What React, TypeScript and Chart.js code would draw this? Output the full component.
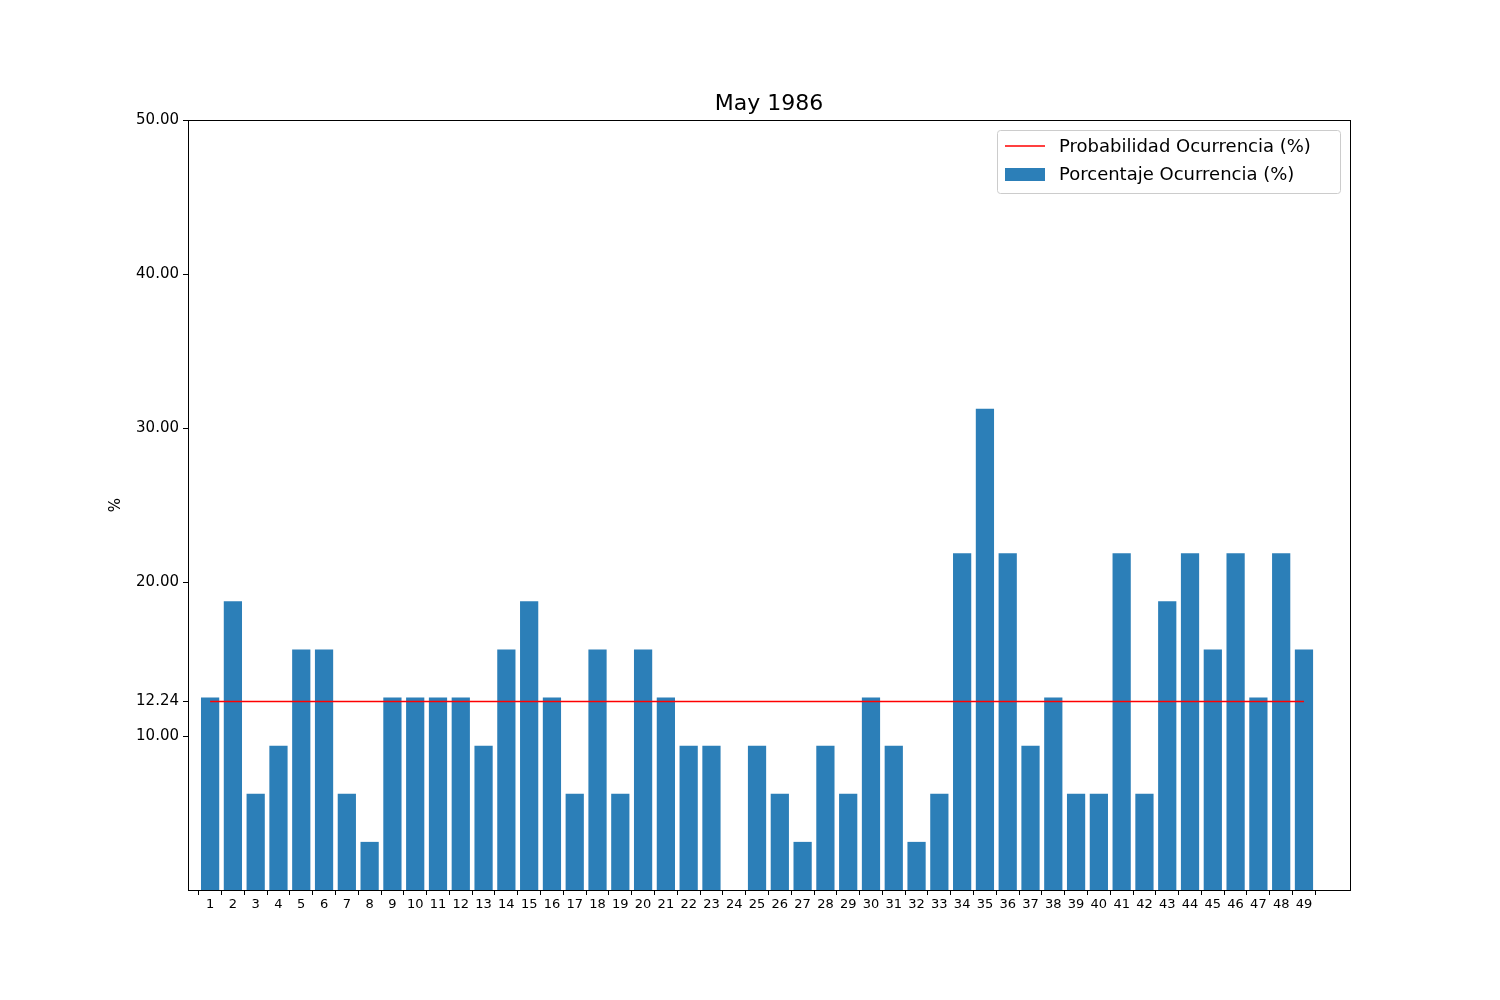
import React, { useRef, useEffect } from 'react';
import Chart from 'chart.js/auto';

const days = Array.from({ length: 49 }, (_, i) => i + 1);
const porcentaje = [
  12.5, 18.75, 6.25, 9.375, 15.625, 15.625, 6.25, 3.125, 12.5, 12.5,
  12.5, 12.5, 9.375, 15.625, 18.75, 12.5, 6.25, 15.625, 6.25, 15.625,
  12.5, 9.375, 9.375, 0, 9.375, 6.25, 3.125, 9.375, 6.25, 12.5,
  9.375, 3.125, 6.25, 21.875, 31.25, 21.875, 9.375, 12.5, 6.25, 6.25,
  21.875, 6.25, 18.75, 21.875, 15.625, 21.875, 12.5, 21.875, 15.625,
];
const probabilidad = 12.24;
const yTicks = [10, 12.24, 20, 30, 40, 50];

const FONT = 'DejaVu Sans';

const decorPlugin = {
  id: 'decor',
  afterDraw(chart: any) {
    const { ctx, chartArea: a } = chart;
    ctx.save();
    ctx.strokeStyle = '#000';
    ctx.lineWidth = 1;
    ctx.strokeRect(a.left + 0.5, a.top + 0.5, a.right - a.left, a.bottom - a.top);
    ctx.fillStyle = '#000';
    ctx.textAlign = 'center';
    ctx.textBaseline = 'alphabetic';
    ctx.font = `22px ${FONT}`;
    ctx.fillText('May 1986', (a.left + a.right) / 2, a.top - 10);
    ctx.save();
    ctx.translate(120, (a.top + a.bottom) / 2);
    ctx.rotate(-Math.PI / 2);
    ctx.font = `15px ${FONT}`;
    ctx.fillText('%', 0, 0);
    ctx.restore();
    // legend
    const lx = 997, ly = 130, lw = 343, lh = 63;
    ctx.fillStyle = 'rgba(255,255,255,0.8)';
    ctx.strokeStyle = '#ccc';
    ctx.beginPath();
    ctx.roundRect(lx + 0.5, ly + 0.5, lw, lh, 3);
    ctx.fill();
    ctx.stroke();
    ctx.strokeStyle = 'red';
    ctx.lineWidth = 1.5;
    ctx.beginPath();
    ctx.moveTo(1005, 146);
    ctx.lineTo(1045, 146);
    ctx.stroke();
    ctx.fillStyle = '#2c7fb8';
    ctx.fillRect(1005, 168, 40, 13);
    ctx.fillStyle = '#000';
    ctx.textAlign = 'left';
    ctx.textBaseline = 'middle';
    ctx.font = `18px ${FONT}`;
    ctx.fillText('Probabilidad Ocurrencia (%)', 1059, 147);
    ctx.fillText('Porcentaje Ocurrencia (%)', 1059, 175);
    ctx.restore();
  },
};

export default function App() {
  const ref = useRef<HTMLCanvasElement | null>(null);

  useEffect(() => {
    if (!ref.current) return;
    const chart = new Chart(ref.current, {
      type: 'bar',
      data: {
        datasets: [
          {
            type: 'line',
            label: 'Probabilidad Ocurrencia (%)',
            data: [
              { x: days[0], y: probabilidad },
              { x: days[days.length - 1], y: probabilidad },
            ],
            borderColor: 'red',
            borderWidth: 1.5,
            pointRadius: 0,
            order: 0,
          },
          {
            type: 'bar',
            label: 'Porcentaje Ocurrencia (%)',
            data: days.map((d, i) => ({ x: d, y: porcentaje[i] })),
            backgroundColor: '#2c7fb8',
            barPercentage: 0.8,
            categoryPercentage: 1,
            order: 1,
          },
        ],
      } as any,
      options: {
        animation: false,
        responsive: false,
        maintainAspectRatio: false,
        layout: { padding: { top: 120, right: 150, bottom: 80, left: 0 } },
        plugins: { legend: { display: false }, title: { display: false }, tooltip: { enabled: false } },
        scales: {
          x: {
            type: 'linear',
            min: 0.03,
            max: 51.02,
            offset: false,
            grid: { drawOnChartArea: false, drawTicks: true, tickLength: 5, color: '#000' },
            border: { color: '#000' },
            afterBuildTicks: (s: any) => { s.ticks = days.map((v) => ({ value: v })); },
            afterFit: (s: any) => { s.height = 30; },
            ticks: { autoSkip: false, maxRotation: 0, color: '#000', font: { family: FONT, size: 13 }, padding: 2, callback: (v: any) => String(v) },
          },
          y: {
            min: 0,
            max: 50,
            grid: { drawOnChartArea: false, drawTicks: true, tickLength: 5, color: '#000' },
            border: { color: '#000' },
            afterBuildTicks: (s: any) => { s.ticks = yTicks.map((v) => ({ value: v })); },
            afterFit: (s: any) => { s.width = 188; },
            ticks: { color: '#000', font: { family: FONT, size: 15 }, padding: 4, callback: (v: any) => Number(v).toFixed(2) },
          },
        },
      },
      plugins: [decorPlugin],
    });
    return () => chart.destroy();
  }, []);

  return (
    <div style={{ position: 'absolute', left: 0, top: 0, width: 1500, height: 1000, background: '#fff' }}>
      <canvas ref={ref} width={1500} height={1000} style={{ width: 1500, height: 1000 }} />
    </div>
  );
}
